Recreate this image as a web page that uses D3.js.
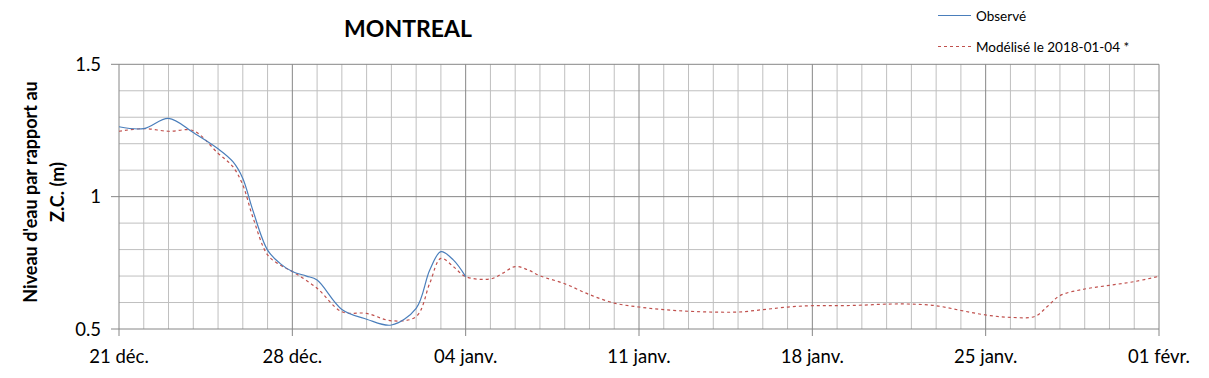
<!DOCTYPE html>
<html>
<head>
<meta charset="utf-8">
<script src="https://cdn.jsdelivr.net/npm/d3@7"></script>
<style>
  body { margin: 0; background: #fff; }
  svg { font-family: Lato, "Liberation Sans", sans-serif; }
</style>
</head>
<body>
<svg id="chart" width="1209" height="378"></svg>
<script>
// day offsets from 21 déc. 2017
const obsDays   = [0, 1, 2, 3, 4, 4.6, 5, 5.4, 6, 6.5, 7, 7.57, 8, 9, 10, 11, 12, 12.55, 13, 13.5, 14];
const obsValues = [1.264, 1.257, 1.296, 1.242, 1.181, 1.132, 1.069, 0.950, 0.798, 0.748, 0.717, 0.700, 0.685,
                   0.574, 0.537, 0.515, 0.578, 0.723, 0.792, 0.761, 0.698];

const modDays   = [0, 1, 2, 3, 4, 4.6, 5, 5.4, 6, 6.5, 7, 8, 9, 10, 11, 12, 12.55, 13, 13.5, 14,
                   15, 15.5, 16, 16.5, 17, 18, 19, 20, 21, 22, 23, 24, 25, 26, 27,
                   28, 29, 30, 31, 32, 33, 34, 35, 36, 37, 37.5, 38, 39, 40, 41, 42];
const modValues = [1.247, 1.257, 1.247, 1.249, 1.164, 1.113, 1.044, 0.924, 0.780, 0.742, 0.717, 0.654, 0.565,
                   0.559, 0.531, 0.547, 0.673, 0.767, 0.736, 0.698,
                   0.689, 0.711, 0.736, 0.724, 0.701, 0.671, 0.630, 0.598, 0.583, 0.573, 0.567, 0.564, 0.564, 0.573, 0.583,
                   0.588, 0.588, 0.590, 0.594, 0.594, 0.588, 0.570, 0.553, 0.544, 0.548, 0.586, 0.626, 0.651, 0.665, 0.679, 0.699];

const tickLabels = ['21 déc.', '28 déc.', '04 janv.', '11 janv.', '18 janv.', '25 janv.', '01 févr.'];
const yTicks     = [0.5, 1, 1.5];
const seriesNames = ['Observé', 'Modélisé le 2018-01-04 *'];

const START = new Date(2017, 11, 21);
const dayToDate = d => new Date(START.getTime() + d * 86400000);

const PLOT_LEFT = 119, PLOT_RIGHT = 1159, PLOT_TOP = 64.3, PLOT_BOTTOM = 329;

const svg = d3.select('#chart');

const x = d3.scaleTime()
    .domain([START, dayToDate(42)])
    .range([PLOT_LEFT, PLOT_RIGHT]);

const y = d3.scaleLinear()
    .domain([0.5, 1.5])
    .range([PLOT_BOTTOM, PLOT_TOP]);

// minor grid
const grid = svg.append('g');
d3.range(0, 43).filter(d => d % 7 !== 0).forEach(d => {
    grid.append('line')
        .attr('x1', x(dayToDate(d))).attr('x2', x(dayToDate(d)))
        .attr('y1', PLOT_TOP).attr('y2', PLOT_BOTTOM)
        .attr('stroke', '#bfbfbf').attr('stroke-width', 1);
});
d3.range(1, 10).filter(i => i !== 5).forEach(i => {
    const v = 0.5 + i * 0.1;
    grid.append('line')
        .attr('x1', PLOT_LEFT).attr('x2', PLOT_RIGHT)
        .attr('y1', y(v)).attr('y2', y(v))
        .attr('stroke', '#bfbfbf').attr('stroke-width', 1);
});

// major grid + ticks
d3.range(0, 43, 7).forEach(d => {
    grid.append('line')
        .attr('x1', x(dayToDate(d))).attr('x2', x(dayToDate(d)))
        .attr('y1', PLOT_TOP).attr('y2', PLOT_BOTTOM + 7)
        .attr('stroke', '#868686').attr('stroke-width', 1);
});
yTicks.forEach(v => {
    grid.append('line')
        .attr('x1', PLOT_LEFT - 8).attr('x2', PLOT_RIGHT)
        .attr('y1', y(v)).attr('y2', y(v))
        .attr('stroke', '#868686').attr('stroke-width', 1);
});

// axis labels
svg.append('g').selectAll('text')
    .data(yTicks)
    .join('text')
    .attr('x', 101)
    .attr('y', d => y(d) + 6.5)
    .attr('text-anchor', 'end')
    .attr('font-size', 18.5)
    .attr('fill', '#000')
    .text(d => d);

svg.append('g').selectAll('text')
    .data(tickLabels)
    .join('text')
    .attr('x', (d, i) => x(dayToDate(i * 7)))
    .attr('y', 363)
    .attr('text-anchor', 'middle')
    .attr('font-size', 18.5)
    .attr('fill', '#000')
    .text(d => d);

// y axis title
const yTitle = svg.append('text')
    .attr('transform', 'translate(31,192) rotate(-90)')
    .attr('text-anchor', 'middle')
    .attr('font-size', 18)
    .attr('font-weight', 'bold');
yTitle.append('tspan').attr('x', 0).attr('dy', 6).text("Niveau d'eau par rapport au");
yTitle.append('tspan').attr('x', 0).attr('dy', 27).text('Z.C. (m)');

// title
svg.append('text')
    .attr('x', 408)
    .attr('y', 37)
    .attr('text-anchor', 'middle')
    .attr('font-size', 23)
    .attr('font-weight', 'bold')
    .text('MONTREAL');

// series
const line = d3.line()
    .x(d => x(dayToDate(d[0])))
    .y(d => y(d[1]))
    .curve(d3.curveCatmullRom.alpha(0.5));

svg.append('path')
    .datum(d3.zip(modDays, modValues))
    .attr('d', line)
    .attr('fill', 'none')
    .attr('stroke', '#c0504d')
    .attr('stroke-width', 1.2)
    .attr('stroke-dasharray', '3,3');

svg.append('path')
    .datum(d3.zip(obsDays, obsValues))
    .attr('d', line)
    .attr('fill', 'none')
    .attr('stroke', '#4a7ebb')
    .attr('stroke-width', 1.2);

// legend
const legend = svg.append('g');
[['#4a7ebb', null, 15.5], ['#c0504d', '3,3', 46.5]].forEach((s, i) => {
    legend.append('line')
        .attr('x1', 938).attr('x2', 971)
        .attr('y1', s[2]).attr('y2', s[2])
        .attr('stroke', s[0]).attr('stroke-width', 1.2)
        .attr('stroke-dasharray', s[1]);
    legend.append('text')
        .attr('x', 976).attr('y', s[2] + 5)
        .attr('font-size', 13.5)
        .text(seriesNames[i]);
});
</script>
</body>
</html>
